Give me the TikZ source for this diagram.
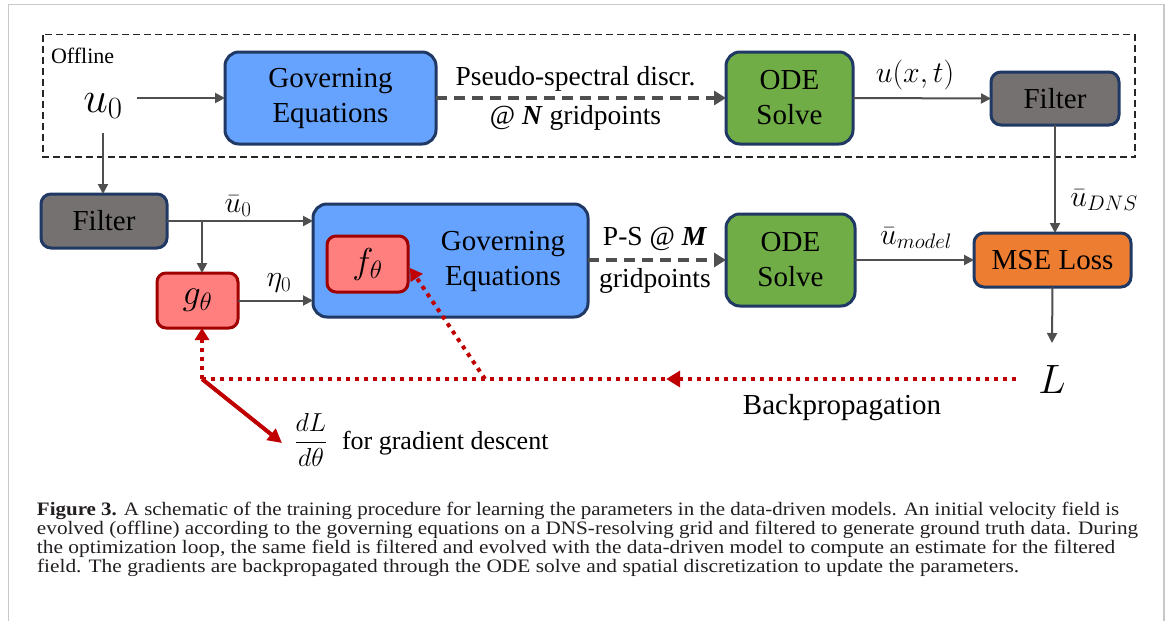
\RequirePackage{fix-cm}
\documentclass[tikz,border=0pt]{standalone}
\usepackage[no-math]{fontspec}
\IfFontExistsTF{LiberationSerif-Regular.ttf}
 {\setmainfont{LiberationSerif}[Extension=.ttf, UprightFont=*-Regular, BoldFont=*-Bold, ItalicFont=*-Italic, BoldItalicFont=*-BoldItalic]}
 {\IfFontExistsTF{texgyretermes-regular.otf}
   {\setmainfont{texgyretermes}[Extension=.otf, UprightFont=*-regular, BoldFont=*-bold, ItalicFont=*-italic, BoldItalicFont=*-bolditalic]}
   {}}
\usepackage{amsmath}
\usetikzlibrary{arrows.meta,decorations.markings,calc}
\definecolor{navy}{HTML}{1F3864}
\definecolor{bfill}{HTML}{66A3FF}
\definecolor{gfill}{HTML}{70AD47}
\definecolor{fgray}{HTML}{767171}
\definecolor{ofill}{HTML}{ED7D31}
\definecolor{rfill}{HTML}{FF7F7F}
\definecolor{rdark}{HTML}{A00000}
\definecolor{dotred}{HTML}{C00000}
\definecolor{arrgray}{HTML}{4F4F4F}
\definecolor{framegray}{HTML}{C8C8C8}
\definecolor{captext}{HTML}{231F20}
\begin{document}
\begin{tikzpicture}[x=1pt,y=-1pt,
  every node/.style={inner sep=0pt, outer sep=0pt},
  base/.style={draw=navy, line width=3pt, rounded corners=14pt, align=center, font=\rmfamily\fontsize{29}{35}\selectfont},
  bluebox/.style={base, fill=bfill},
  greenbox/.style={base, fill=gfill},
  graybox/.style={base, fill=fgray, rounded corners=10pt},
  orangebox/.style={base, fill=ofill, rounded corners=10pt},
  redbox/.style={draw=rdark, line width=3pt, fill=rfill, rounded corners=9pt, font=\fontsize{36}{36}\selectfont},
  lbl/.style={font=\rmfamily\fontsize{27.5}{32}\selectfont, align=center},
  mlbl/.style={font=\fontsize{30}{30}\selectfont},
  arr/.style={draw=arrgray, line width=2pt, -{Triangle[length=10pt,width=10pt]}},
  darr/.style={draw=arrgray, line width=4pt, dash pattern=on 11pt off 7pt, -{Triangle[length=12pt,width=14pt]}},
  dotline/.style={draw=dotred, line width=4pt, dash pattern=on 4pt off 5pt},
  midarrow/.style={postaction={decorate, decoration={markings, mark=at position #1 with {\arrow[dotred]{Triangle[length=14pt,width=16pt]}}}}},
  capline/.style={anchor=base west, font=\rmfamily\fontsize{19}{19}\selectfont, text=captext},
]
\useasboundingbox (0,0) rectangle (1171,621);
\fill[white] (0,0) rectangle (1171,621);
% frame
\draw[framegray, line width=1.5pt] (8.5,621) -- (8.5,4.5) -- (1164,4.5) -- (1164,621);
% offline box
\draw[black!85, line width=1.3pt, dash pattern=on 7pt off 4pt] (43,34.5) rectangle (1135,157);
\node[anchor=west, font=\rmfamily\fontsize{22}{22}\selectfont] (offline) at (51,56) {Offline};

% top row
\node[font=\fontsize{44}{44}\selectfont, inner sep=14pt] (u0) at (103,106) {$u_0$};
\node[bluebox, minimum width=211pt, minimum height=92pt] (govA) at (330.5,98) {Governing\\Equations};
\node[greenbox, minimum width=127pt, minimum height=92pt] (odeA) at (789.5,98) {ODE\\Solve};
\node[graybox, minimum width=128pt, minimum height=53pt] (filtA) at (1055,98.5) {Filter};
\node[lbl] (psd) at (575.5,79) {Pseudo-spectral discr.};
\node[lbl] (atN) at (575.5,118) {@ \textbf{\textit{N}} gridpoints};
\node[mlbl] (uxt) at (915,75) {$u(x,t)$};

% second row
\node[graybox, minimum width=126pt, minimum height=54pt] (filtB) at (104,221) {Filter};
\node[bluebox, minimum width=275pt, minimum height=113pt] (govB) at (450.5,260.5) {};
\node[base, draw=none, fill=none] (govBtxt) at (503,261) {Governing\\Equations};
\node[redbox, minimum width=81pt, minimum height=56pt] (f) at (367.5,264) {$f_\theta$};
\node[redbox, minimum width=81pt, minimum height=55pt] (g) at (197.5,300.5) {$g_\theta$};
\node[greenbox, minimum width=129pt, minimum height=92pt] (odeB) at (790.5,260) {ODE\\Solve};
\node[orangebox, minimum width=157pt, minimum height=54pt] (mse) at (1052.5,260) {MSE Loss};
\node[mlbl] (ubar0) at (238,206) {$\bar{u}_0$};
\node[mlbl] (eta0) at (279,283) {$\eta_0$};
\node[lbl] (ps) at (655,239) {P-S @ \textbf{\textit{M}}};
\node[lbl] (grid) at (655,281) {gridpoints};
\node[mlbl] (umodel) at (916,238) {$\bar{u}_{model}$};
\node[mlbl] (udns) at (1104,200) {$\bar{u}_{DNS}$};
\node[font=\fontsize{41}{41}\selectfont, inner sep=22pt] (L) at (1052,379) {$L$};

% backprop labels
\node[lbl, font=\rmfamily\fontsize{29}{32}\selectfont] (bpl) at (842,408) {Backpropagation};
\node[font=\fontsize{26}{26}\selectfont] (frac) at (311,440) {$\dfrac{dL}{d\theta}$};
\node[lbl, anchor=west, font=\rmfamily\fontsize{26}{30}\selectfont] (fgd) at (342,443) {for gradient descent};

\coordinate (br) at (202,221);
\coordinate (bp) at (202,379);
\coordinate (fork) at (485,379);
\coordinate (grad) at (282,443);

% connectors
\draw[arr] (u0.east |- govA.west) -- (govA.west);
\draw[darr] (govA.east) -- (odeA.west);
\draw[arr] (odeA.east) -- (filtA.west);
\draw[arr] (filtA.south) -- (filtA.south |- mse.north);
\draw[arr] (u0.south) -- (u0.south |- filtB.north);
\draw[arr] (filtB.east) -- (filtB.east -| govB.west);
\draw[arr] (br) -- (br |- g.north);
\draw[arr] (g.east) -- (g.east -| govB.west);
\draw[darr] (govB.east |- odeB.west) -- (odeB.west);
\draw[arr] (odeB.east) -- (mse.west);
\draw[arr] (mse.south) -- (L.north);

% backpropagation
\draw[dotline, midarrow=0.43] (L.west) -- (bp);
\draw[dotline, -{Triangle[length=12pt,width=14pt]}] (bp) -- (bp |- g.south);
\draw[dotline, -{Triangle[length=12pt,width=14pt]}] (fork) -- ($(f.east)+(2,4)$);
\draw[draw=dotred, line width=4pt, -{Triangle[length=14pt,width=14pt]}] (bp) -- (grad);

% caption
\node[capline] (cap1) at (37,515) {\resizebox{1082pt}{\height}{\textbf{Figure 3.} A schematic of the training procedure for learning the parameters in the data-driven models. An initial velocity field is}};
\node[capline] (cap2) at (37,534) {\resizebox{1101pt}{\height}{evolved (offline) according to the governing equations on a DNS-resolving grid and filtered to generate ground truth data. During}};
\node[capline] (cap3) at (37,553) {\resizebox{1078pt}{\height}{the optimization loop, the same field is filtered and evolved with the data-driven model to compute an estimate for the filtered}};
\node[capline] (cap4) at (37,572) {\resizebox{982pt}{\height}{field. The gradients are backpropagated through the ODE solve and spatial discretization to update the parameters.}};
\end{tikzpicture}
\end{document}
